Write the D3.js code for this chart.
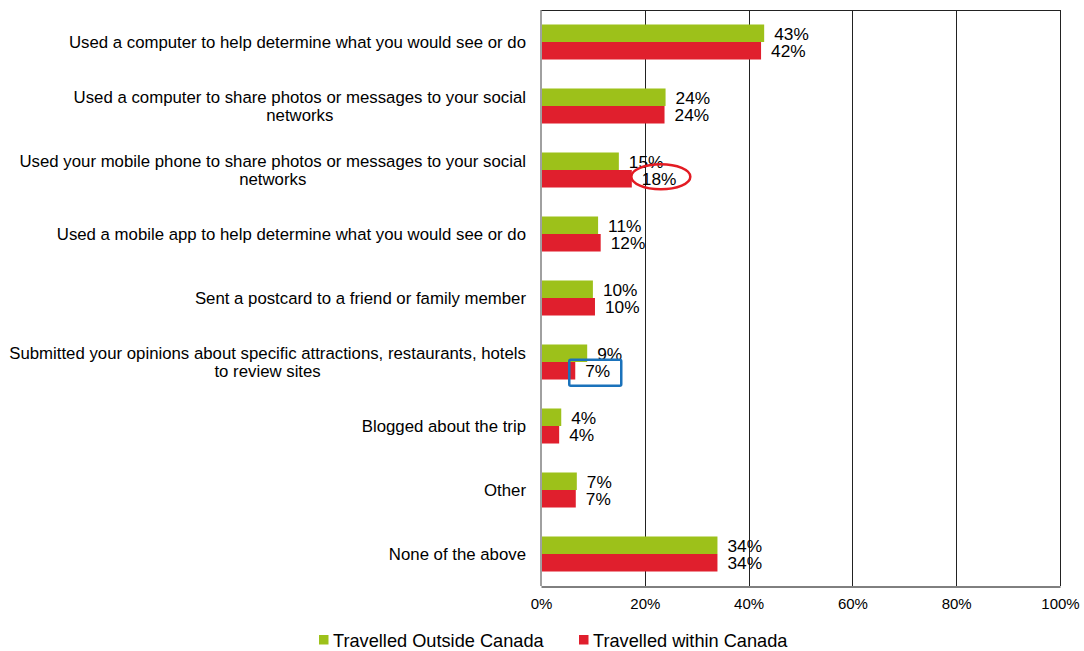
<!DOCTYPE html>
<html>
<head>
<meta charset="utf-8">
<script src="https://cdn.jsdelivr.net/npm/d3@7"></script>
<style>
  html, body { margin: 0; padding: 0; background: #fff; }
  svg { display: block; font-family: "Liberation Sans", Arial, sans-serif; }
</style>
</head>
<body>
<svg id="chart" width="1084" height="651"></svg>
<script>
const categories = [
  ["Used a computer to help determine what you would see or do"],
  ["Used a computer to share photos or messages to your social", "networks"],
  ["Used your mobile phone to share photos or messages to your social", "networks"],
  ["Used a mobile app to help determine what you would see or do"],
  ["Sent a postcard to a friend or family member"],
  ["Submitted your opinions about specific attractions, restaurants, hotels", "to review sites"],
  ["Blogged about the trip"],
  ["Other"],
  ["None of the above"]
];
const seriesNames = ["Travelled Outside Canada", "Travelled within Canada"];
const outsideCanada = [43.0, 24.0, 15.0, 11.0, 10.0, 8.9, 3.9, 6.9, 34.0];
const withinCanada  = [42.4, 23.8, 17.5, 11.5, 10.4, 6.6, 3.5, 6.7, 34.0];
const xTicks = [0, 20, 40, 60, 80, 100];
const colors = ["#9dc11a", "#e01f2d"];

(function () {
const svg = d3.select("#chart");
const pL = 541, pR = 1060, pT = 10, pB = 586;

const keys = categories.map((c, i) => "c" + i);
const x = d3.scaleLinear().domain([0, 100]).range([pL, pR]);
const y = d3.scaleBand().domain(keys).range([pT, pB]).paddingInner(0.453).paddingOuter(0.2265);
const y1 = d3.scaleBand().domain(seriesNames).range([0, y.bandwidth()]);

// gridlines
svg.append("g").selectAll("line").data(xTicks.slice(1)).join("line")
  .attr("x1", d => Math.round(x(d)) + 0.5).attr("x2", d => Math.round(x(d)) + 0.5)
  .attr("y1", pT).attr("y2", pB)
  .attr("stroke", "#222").attr("stroke-width", 1);
// top border
svg.append("line").attr("x1", pL).attr("x2", pR + 0.5).attr("y1", pT + 0.5).attr("y2", pT + 0.5)
  .attr("stroke", "#222");

// x axis
const xAxis = svg.append("g").attr("transform", `translate(0,${pB + 0.5})`)
  .call(d3.axisBottom(x).tickValues(xTicks).tickFormat(d => d + "%").tickSize(0).tickPadding(12));
xAxis.select(".domain").attr("stroke", "#000");
xAxis.selectAll("text").attr("font-size", 15).attr("fill", "#000")
  .attr("font-family", "'Liberation Sans', Arial, sans-serif");

// left axis line
svg.append("line").attr("x1", pL).attr("x2", pL).attr("y1", pT).attr("y2", pB)
  .attr("stroke", "#808080").attr("stroke-width", 1.5);

// bars
const data = keys.map((k, i) => ({ key: k, vals: [outsideCanada[i], withinCanada[i]] }));
const groups = svg.append("g").selectAll("g").data(data).join("g")
  .attr("transform", d => `translate(0,${y(d.key)})`);
groups.selectAll("rect").data(d => d.vals.map((v, j) => ({ v, s: seriesNames[j], j }))).join("rect")
  .attr("x", x(0) + 1)
  .attr("y", d => y1(d.s))
  .attr("width", d => x(d.v) - x(0) - 1)
  .attr("height", y1.bandwidth())
  .attr("fill", d => colors[d.j]);
groups.selectAll("text.val").data(d => d.vals.map((v, j) => ({ v, s: seriesNames[j], j }))).join("text")
  .attr("class", "val")
  .attr("x", d => x(d.v) + 10)
  .attr("y", d => y1(d.s) + y1.bandwidth() / 2 + 0.5)
  .attr("dy", "0.36em")
  .attr("font-size", 17.3)
  .attr("fill", "#000")
  .text(d => Math.round(d.v) + "%");

// category labels
const labelRight = 526;
const catG = svg.append("g").attr("font-size", 16.8).attr("fill", "#000");
data.forEach((d, i) => {
  const lines = categories[i];
  const cy = y(d.key) + y.bandwidth() / 2;
  const lh = 18;
  const tmp = catG.append("text");
  const widths = lines.map(l => { tmp.text(l); return tmp.node().getComputedTextLength(); });
  tmp.remove();
  const maxW = d3.max(widths);
  const cx = labelRight - maxW / 2;
  const t = catG.append("text").attr("text-anchor", "middle");
  lines.forEach((l, k) => {
    t.append("tspan").attr("x", cx)
      .attr("y", cy - (lines.length - 1) * lh / 2 + k * lh)
      .attr("dy", "0.36em").text(l);
  });
});

// annotations
const i18 = 2;
const cyRed18 = y(keys[i18]) + y1(seriesNames[1]) + y1.bandwidth() / 2;
svg.append("ellipse")
  .attr("cx", x(withinCanada[i18]) + 29).attr("cy", cyRed18 - 2)
  .attr("rx", 29.5).attr("ry", 12.5)
  .attr("fill", "none").attr("stroke", "#e31b23").attr("stroke-width", 2.5);
const i7 = 5;
const cyRed7 = y(keys[i7]) + y1(seriesNames[1]) + y1.bandwidth() / 2;
svg.append("rect")
  .attr("x", x(withinCanada[i7]) - 6).attr("y", cyRed7 - 11)
  .attr("width", 52).attr("height", 26).attr("rx", 1.5)
  .attr("fill", "none").attr("stroke", "#1a72bb").attr("stroke-width", 2.5);

// legend
const legend = svg.append("g").attr("transform", "translate(0,640)");
const legX = [319, 579];
seriesNames.forEach((s, j) => {
  legend.append("rect").attr("x", legX[j]).attr("y", -5).attr("width", 9.5).attr("height", 9.5).attr("fill", colors[j]);
  legend.append("text").attr("x", legX[j] + 14).attr("y", 0).attr("dy", "0.36em")
    .attr("font-size", 18.2).attr("fill", "#000").text(s);
});
})();
</script>
</body>
</html>
